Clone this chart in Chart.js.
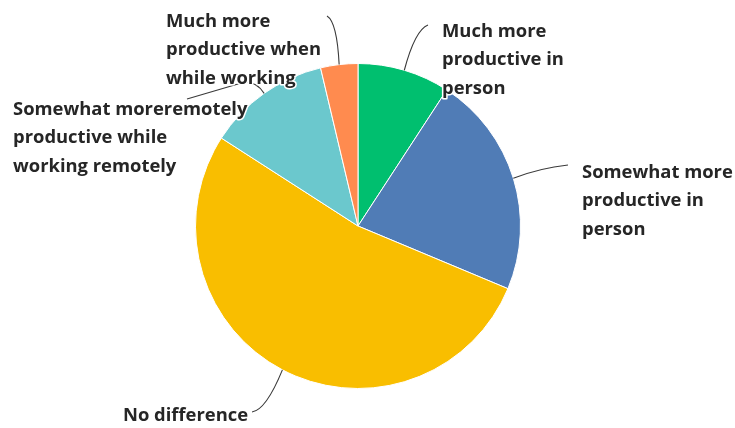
<!DOCTYPE html>
<html>
<head>
<meta charset="utf-8">
<script src="https://cdn.jsdelivr.net/npm/chart.js@4.4.0/dist/chart.umd.min.js"></script>
<style>
  html, body { margin: 0; padding: 0; background: #ffffff; }
  #wrap { width: 735px; height: 428px; }
</style>
</head>
<body>
<div id="wrap"><canvas id="c" width="735" height="428"></canvas></div>
<script>
// Answer categories (clockwise from 12 o'clock) and their shares in percent
const categories = [
  "Much more productive in person",
  "Somewhat more productive in person",
  "No difference",
  "Somewhat moreremotely productive while working remotely",
  "Much more productive when while working"
];
const labelLines = [
  ["Much more", "productive in", "person"],
  ["Somewhat more", "productive in", "person"],
  ["No difference"],
  ["Somewhat moreremotely", "productive while", "working remotely"],
  ["Much more", "productive when", "while working"]
];
const shares = [9.2, 22.1, 52.8, 12.2, 3.7];
const colors = ["#00BF6F", "#507CB6", "#F9BE00", "#6BC8CD", "#FF8B4F"];

// Where each outside label sits and how its curved leader line bends
const labelPlacement = [
  { x: 442, y: 37, ctrl: [415, 30], end: [428, 25] },
  { x: 582, y: 178, ctrl: [540, 168], end: [568, 165] },
  { x: 123, y: 421, ctrl: [266, 410], end: [252, 412] },
  { x: 13, y: 115, ctrl: [254, 78], mid: [238, 84], end: [187, 99] },
  { x: 166, y: 27, ctrl: [337, 22], end: [327, 16] }
];

const FONT = '700 18.4px "Open Sans", sans-serif';
const LINE_H = 28.3;

const outsideLabels = {
  id: 'outsideLabels',
  afterDraw(chart) {
    const ctx = chart.ctx;
    const meta = chart.getDatasetMeta(0);
    ctx.save();
    meta.data.forEach((arc, i) => {
      const p = labelPlacement[i];
      const mid = (arc.startAngle + arc.endAngle) / 2;
      const sx = arc.x + Math.cos(mid) * arc.outerRadius;
      const sy = arc.y + Math.sin(mid) * arc.outerRadius;
      // leader line
      ctx.beginPath();
      ctx.strokeStyle = '#3a3a3a';
      ctx.lineWidth = 1.1;
      ctx.moveTo(sx, sy);
      if (p.mid) {
        ctx.quadraticCurveTo(p.ctrl[0], p.ctrl[1], p.mid[0], p.mid[1]);
        ctx.lineTo(p.end[0], p.end[1]);
      } else {
        ctx.quadraticCurveTo(p.ctrl[0], p.ctrl[1], p.end[0], p.end[1]);
      }
      ctx.stroke();
    });
    meta.data.forEach((arc, i) => {
      const p = labelPlacement[i];
      ctx.font = FONT;
      ctx.textAlign = 'left';
      ctx.textBaseline = 'alphabetic';
      labelLines[i].forEach((line, k) => {
        const y = p.y + k * LINE_H;
        ctx.lineWidth = 3;
        ctx.strokeStyle = '#ffffff';
        ctx.lineJoin = 'round';
        ctx.strokeText(line, p.x, y);
        ctx.fillStyle = '#262626';
        ctx.fillText(line, p.x, y);
      });
    });
    ctx.restore();
  }
};

new Chart(document.getElementById('c'), {
  type: 'pie',
  data: {
    labels: categories,
    datasets: [{
      data: shares,
      backgroundColor: colors,
      borderColor: '#ffffff',
      borderWidth: 1
    }]
  },
  options: {
    responsive: false,
    animation: false,
    layout: { padding: { top: 63, bottom: 39, left: 190, right: 209 } },
    plugins: {
      legend: { display: false },
      tooltip: { enabled: false }
    }
  },
  plugins: [outsideLabels]
});
</script>
</body>
</html>
